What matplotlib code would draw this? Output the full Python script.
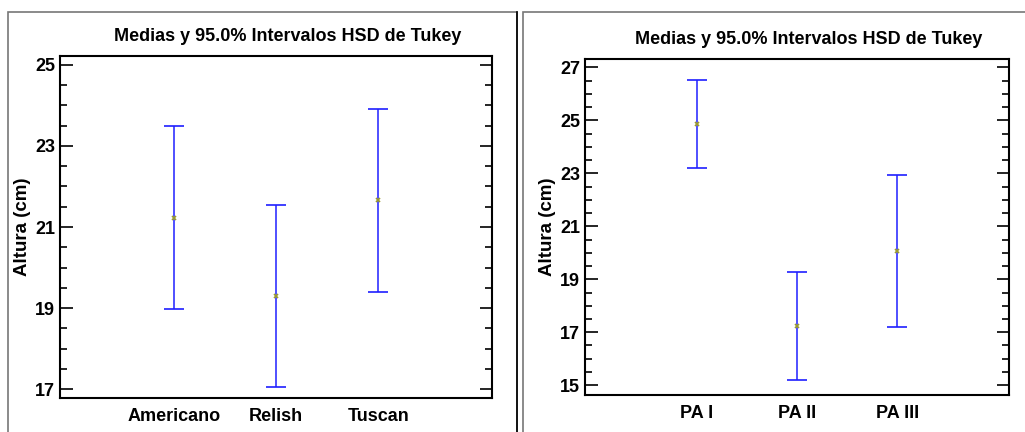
import numpy as np
import matplotlib.pyplot as plt
from matplotlib.patches import Rectangle

plt.rcParams['font.family'] = ['Liberation Sans', 'DejaVu Sans']
plt.rcParams['font.weight'] = 'bold'

# Panel 1: variedad
cats_a = ['Americano', 'Relish', 'Tuscan']
mean_a = [21.23, 19.30, 21.66]
low_a = [18.98, 17.04, 19.40]
high_a = [23.49, 21.55, 23.91]

# Panel 2: tratamiento
cats_b = ['PA I', 'PA II', 'PA III']
mean_b = [24.87, 17.22, 20.06]
low_b = [23.20, 15.21, 17.19]
high_b = [26.54, 19.26, 22.93]

title = 'Medias y 95.0% Intervalos HSD de Tukey'
ylabel = 'Altura (cm)'

fig = plt.figure(figsize=(10.25, 4.32), dpi=100)

# panel frames
fig.patches.append(Rectangle((8 / 1025, -0.05), 509 / 1025, 1.05 - 12 / 432,
                             transform=fig.transFigure, fill=False,
                             edgecolor='#777777', lw=1.2))
fig.lines.append(plt.Line2D([517 / 1025, 517 / 1025], [0, 1 - 12 / 432],
                            transform=fig.transFigure, color='black', lw=1.2))
fig.patches.append(Rectangle((523 / 1025, -0.05), 0.6, 1.05 - 12 / 432,
                             transform=fig.transFigure, fill=False,
                             edgecolor='#777777', lw=1.2))


def panel(rect, cats, mean, low, high, ylim, yticks):
    ax = fig.add_axes(rect)
    x = np.arange(1, len(cats) + 1)
    mean = np.array(mean)
    err = [mean - np.array(low), np.array(high) - mean]
    ax.errorbar(x, mean, yerr=err, fmt='none', ecolor='#1f1fff',
                elinewidth=1.1, capsize=7.5, capthick=1.2)
    ax.plot(x, mean, ls='none', marker='x', ms=3, mew=1.2, color='#9a9a30')
    ax.set_xlim(1 - 1.115, 3 + 1.115)
    ax.set_ylim(*ylim)
    ax.set_yticks(yticks)
    ax.set_yticks(np.arange(yticks[0], yticks[-1] + 0.01, 0.5), minor=True)
    ax.set_xticks(x)
    ax.set_xticklabels(cats, fontsize=13, fontweight='bold')
    ax.tick_params(axis='y', which='both', direction='in', left=True, right=True,
                   labelsize=13, width=1.2)
    ax.tick_params(axis='y', which='major', length=9)
    ax.tick_params(axis='y', which='minor', length=5)
    ax.tick_params(axis='x', length=0, pad=7)
    for lab in ax.get_yticklabels():
        lab.set_fontweight('bold')
    ax.set_ylabel(ylabel, fontsize=13.5, fontweight='bold', labelpad=3)
    ax.set_title(title, fontsize=13, fontweight='bold', x=0.527, pad=11)
    for s in ax.spines.values():
        s.set_linewidth(1.5)
    return ax


panel([60 / 1025, 1 - 398 / 432, 432 / 1025, 342 / 432],
      cats_a, mean_a, low_a, high_a, (16.78, 25.22), [17, 19, 21, 23, 25])
panel([585 / 1025, 1 - 395 / 432, 424 / 1025, 336 / 432],
      cats_b, mean_b, low_b, high_b, (14.63, 27.32), [15, 17, 19, 21, 23, 25, 27])

fig.savefig('out.png', dpi=100)
